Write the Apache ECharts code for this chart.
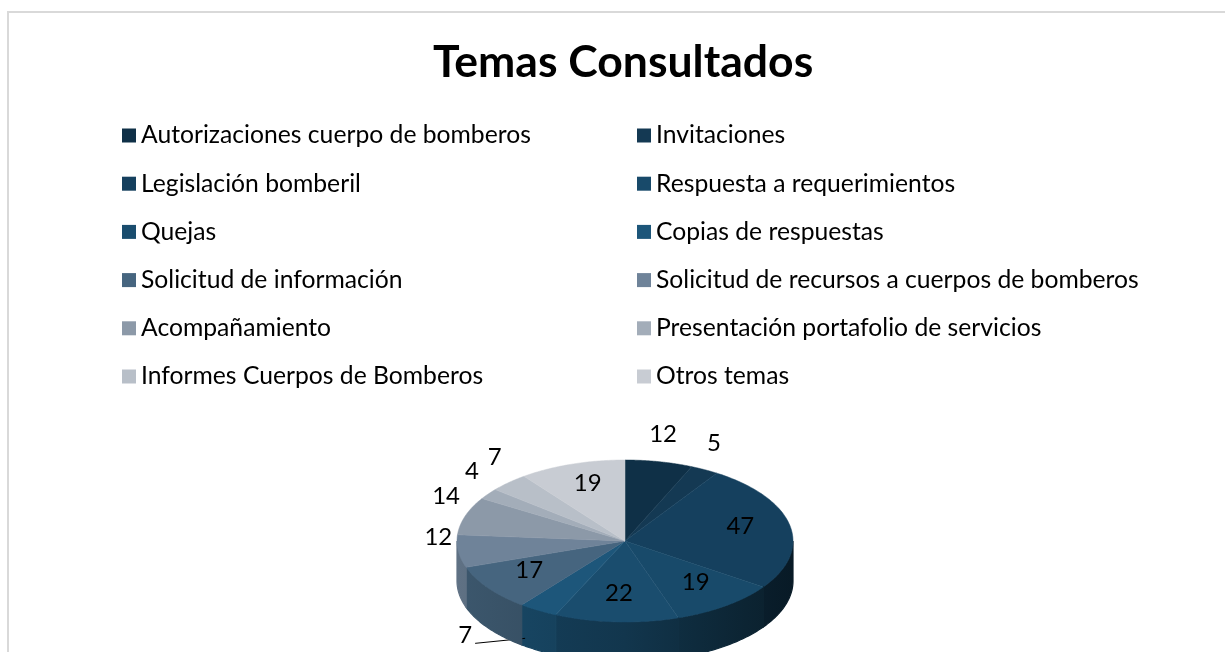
<!DOCTYPE html>
<html>
<head>
<meta charset="utf-8">
<script src="https://cdn.jsdelivr.net/npm/echarts@6/dist/echarts.min.js"></script>
<style>
  html, body { margin: 0; padding: 0; background: #fff; }
  #chart { width: 1225px; height: 652px; }
</style>
</head>
<body>
<div id="chart"></div>
<script>
  const categories = [
    'Autorizaciones cuerpo de bomberos', 'Invitaciones',
    'Legislación bomberil', 'Respuesta a requerimientos',
    'Quejas', 'Copias de respuestas',
    'Solicitud de información', 'Solicitud de recursos a cuerpos de bomberos',
    'Acompañamiento', 'Presentación portafolio de servicios',
    'Informes Cuerpos de Bomberos', 'Otros temas'
  ]
  const values = [12, 5, 47, 19, 22, 7, 17, 12, 14, 4, 7, 19]
  const colors = ['#0f3047','#143953','#15405e','#184a6a','#1a4d6e','#1d567a',
                  '#46657f','#6f8399','#8c99a8','#a3adb9','#b8bfc8','#c8ccd3']

  // pie geometry (3d look, squashed ellipse + side wall)
  const cx = 625, cy = 541, rx = 168, ry = 81, depth = 40
  const total = values.reduce((a, b) => a + b, 0)
  const font = 'Lato'

  function pt(t, dy) { return [cx + rx * Math.sin(t), cy - ry * Math.cos(t) + (dy || 0)] }

  function shade(hex, k) {
    const n = parseInt(hex.slice(1), 16)
    const r = Math.round(((n >> 16) & 255) * k), g = Math.round(((n >> 8) & 255) * k), b = Math.round((n & 255) * k)
    return `rgb(${r},${g},${b})`
  }

  function renderSlice(idx, api) {
    const color = api.visual('color')
    const before = values.slice(0, idx).reduce((a, b) => a + b, 0)
    const start = before / total * Math.PI * 2
    const end = (before + values[idx]) / total * Math.PI * 2
    const children = []
    // side wall, only the front half is visible
    const a = Math.max(start, Math.PI / 2), b = Math.min(end, Math.PI * 1.5)
    if(b > a) {
      const side = []
      for(let s = 0; s <= 40; s++) side.push(pt(a + (b - a) * s / 40))
      for(let s = 40; s >= 0; s--) side.push(pt(a + (b - a) * s / 40, depth))
      const grad = new echarts.graphic.LinearGradient(cx - rx, 0, cx + rx, 0, [
        { offset: 0, color: shade(color, 0.86) },
        { offset: 0.5, color: shade(color, 0.7) },
        { offset: 1, color: shade(color, 0.4) }
      ], true)
      children.push({ type: 'polygon', shape: { points: side }, style: { fill: grad, stroke: grad, lineWidth: 1.2 } })
    }
    // top face
    const top = [[cx, cy]]
    for(let s = 0; s <= 60; s++) top.push(pt(start + (end - start) * s / 60))
    children.push({ type: 'polygon', shape: { points: top }, style: { fill: color, stroke: color, lineWidth: 0.5 } })
    // data label
    const mid = (start + end) / 2
    const labelStyle = { text: String(values[idx]), fill: '#000', font: `24px ${font}`, align: 'center', verticalAlign: 'middle' }
    if(values[idx] >= 17) {
      children.push({ type: 'text', x: cx + rx * 0.7 * Math.sin(mid), y: cy - ry * 0.7 * Math.cos(mid) - 4, style: labelStyle })
    } else if(mid > Math.PI * 0.55 && mid < Math.PI * 1.45) {
      // front side: label below with a leader line
      const p = pt(mid, 28)
      children.push({ type: 'line', shape: { x1: p[0] - 13, y1: p[1], x2: p[0] - 63, y2: p[1] + 5 }, style: { stroke: '#000', lineWidth: 1 } })
      children.push({ type: 'text', x: p[0] - 73, y: p[1] - 3, style: labelStyle })
    } else {
      children.push({ type: 'text', x: cx + rx * 1.12 * Math.sin(mid), y: cy - ry * 1.15 * Math.cos(mid) - 16, style: labelStyle })
    }
    return { type: 'group', children: children }
  }

  const legendBase = {
    orient: 'vertical', icon: 'rect', itemWidth: 14, itemHeight: 14, itemGap: 23.2,
    textStyle: { fontFamily: font, fontSize: 24.7, color: '#000', lineHeight: 25 },
    selectedMode: false
  }

  const option = {
    animation: false,
    color: colors,
    title: {
      text: 'Temas Consultados', left: 428, top: 35,
      textStyle: { fontFamily: font, fontSize: 44.5, fontWeight: 'bold', color: '#000' }
    },
    legend: [
      { ...legendBase, left: 117, top: 118, data: categories.filter((c, i) => i % 2 == 0) },
      { ...legendBase, left: 632, top: 118, data: categories.filter((c, i) => i % 2 == 1) }
    ],
    graphic: [{
      type: 'rect', shape: { x: 8, y: 12, width: 1400, height: 800 },
      style: { fill: null, stroke: '#d9d9d9', lineWidth: 2 }, silent: true
    }],
    series: categories.map((name, i) => ({
      type: 'custom', name: name, coordinateSystem: 'none',
      data: [values[i]],
      renderItem: (params, api) => renderSlice(i, api)
    }))
  }

  const chart = echarts.init(document.getElementById('chart'))
  chart.setOption(option)
</script>
</body>
</html>
